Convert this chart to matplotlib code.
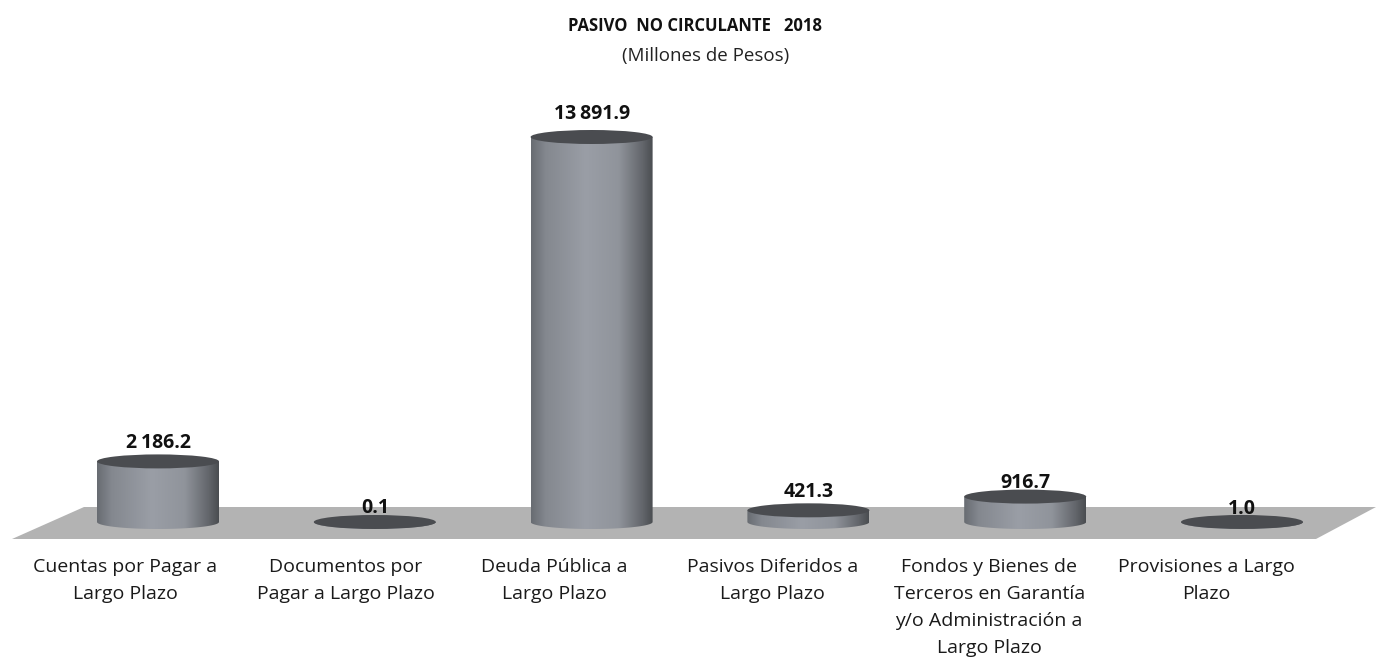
import numpy as np
from matplotlib import pyplot as plt
from matplotlib.patches import Ellipse, PathPatch, Polygon
from matplotlib.path import Path
from matplotlib.colors import LinearSegmentedColormap

WIDTH, HEIGHT = 1376, 660
CATEGORIES = ["Cuentas por Pagar a\nLargo Plazo",
              "Documentos por\nPagar a Largo Plazo",
              "Deuda Pública a\nLargo Plazo",
              "Pasivos Diferidos a\nLargo Plazo",
              "Fondos y Bienes de\nTerceros en Garantía\ny/o Administración a\nLargo Plazo",
              "Provisiones a Largo\nPlazo"]
VALUES = [2186.2, 0.1, 13891.9, 421.3, 916.7, 1.0]
VALUE_LABELS = ["2\u2009186.2", "0.1", "13\u2009891.9", "421.3", "916.7", "1.0"]

X0_PX, STEP_PX = 158, 216.8   # category 0 centre, category spacing
Y0_PX, UNIT_PX = 522, 385 / 13891.9   # baseline, pixels per million
BAR_PX, RY_PX = 122, 7

plt.rcParams['font.family'] = ['Open Sans', 'DejaVu Sans']
body_cmap = LinearSegmentedColormap.from_list(
    "cyl", [(0, "#686c72"), (0.12, "#84888f"), (0.45, "#9a9ea6"),
            (0.72, "#90949b"), (0.92, "#62656a"), (1, "#4a4d51")])


def px_x(px):
    return (px - X0_PX) / STEP_PX


def px_y(py):
    return (Y0_PX - py) / UNIT_PX


fig = plt.figure(figsize=(WIDTH / 100, HEIGHT / 100), dpi=100)
ax = fig.add_axes([0, 0, 1, 1])
ax.axis('off')

# floor
floor = Polygon([(px_x(12), px_y(539)), (px_x(84), px_y(507)),
                 (px_x(1376), px_y(507)), (px_x(1316), px_y(539))],
                closed=True, facecolor="#b3b3b3", edgecolor="none", zorder=1)
ax.add_patch(floor)

bar_w = BAR_PX / STEP_PX
ry = RY_PX / UNIT_PX
gradient = np.linspace(0, 1, 256).reshape(1, -1)

for i, value in enumerate(VALUES):
    left, right = i - bar_w / 2, i + bar_w / 2
    # body with rounded bottom, clipped gradient
    t = np.linspace(np.pi, 2 * np.pi, 40)
    verts = [(left, value)] + list(zip(i + bar_w / 2 * np.cos(t), ry * np.sin(t))) + \
        [(right, value), (left, value)]
    clip = PathPatch(Path(verts), transform=ax.transData, facecolor="none",
                     edgecolor="none")
    ax.add_patch(clip)
    im = ax.imshow(gradient, cmap=body_cmap, aspect='auto', zorder=2,
                   extent=(left, right, -ry, value + ry))
    im.set_clip_path(clip)
    ax.add_patch(Ellipse((i, value), bar_w, 2 * ry, facecolor="#4a4c50",
                         edgecolor="none", zorder=3))

ax.set_xlim(px_x(0), px_x(WIDTH))
ax.set_ylim(px_y(HEIGHT), px_y(0))

label_offsets = [18, 14, 23, 18, 14, 13]
label_shift = [-33, -29, -37, -36, -36, -36]   # category text sits left of its bar
for i, (value, label) in enumerate(zip(VALUES, VALUE_LABELS)):
    ax.annotate(label, (i, value), xytext=(0, label_offsets[i] * 0.72),
                textcoords='offset points', ha='center', va='center',
                fontsize=14, fontweight='bold', color="#111111", zorder=4)
    ax.text(i + label_shift[i] / STEP_PX, px_y(558), CATEGORIES[i], ha='center', va='top',
            fontsize=14, color="#1a1a1a", linespacing=1.65, zorder=4)

ax.text(px_x(695), px_y(26), "PASIVO  NO CIRCULANTE   2018", ha='center',
        va='center', fontsize=12, fontweight='bold', color="#111111")
ax.text(px_x(706), px_y(56), "(Millones de Pesos)", ha='center', va='center',
        fontsize=13.5, color="#222222")

fig.savefig("out.png", dpi=100)
